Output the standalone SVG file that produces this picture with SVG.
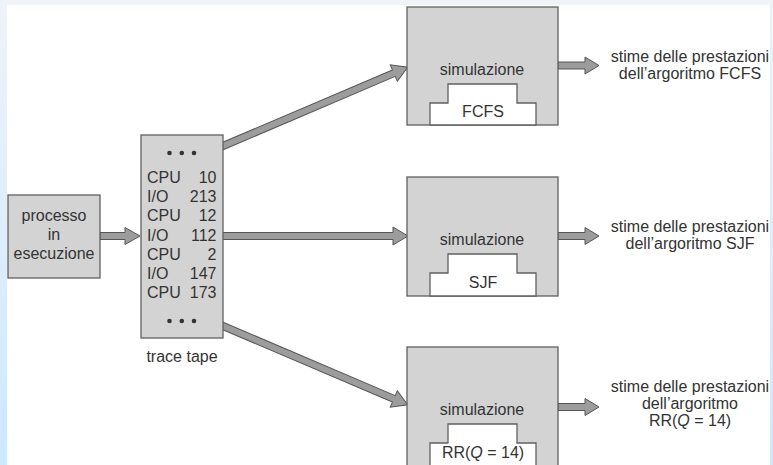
<svg xmlns="http://www.w3.org/2000/svg" width="773" height="465" viewBox="0 0 773 465">
<defs>
<linearGradient id="side" x1="0" y1="0" x2="0" y2="1">
<stop offset="0" stop-color="#eef3f8"/>
<stop offset="1" stop-color="#cde8ff"/>
</linearGradient>
<style>
.box{fill:#d3d3d3;stroke:#606060;stroke-width:1.3}
.inner{fill:#ffffff;stroke:#606060;stroke-width:1.3}
.arr{fill:#9c9c9c;stroke:#555555;stroke-width:1}
text{font-family:"Liberation Sans",Arial,sans-serif;font-size:16px;fill:#333333}
.c{text-anchor:middle}
.r{text-anchor:end}
.dot{fill:#333333}
</style>
</defs>
<rect x="0" y="0" width="773" height="465" fill="#ffffff"/>
<rect x="0" y="0" width="773" height="5" fill="#f0f4f8"/>
<rect x="0" y="0" width="7" height="465" fill="url(#side)"/>
<rect x="770" y="0" width="3" height="465" fill="url(#side)"/>

<g id="connectors">
<polygon class="arr" points="100,232.5 125,232.5 125,227.5 140,236 125,244.5 125,239.5 100,239.5"/>
<g transform="translate(220,147.3) rotate(-23.12)">
<polygon class="arr" points="0,-3.5 189,-3.5 189,-9 204,0 189,9 189,3.5 0,3.5"/>
</g>
<polygon class="arr" points="220,232.5 393,232.5 393,227 408,236 393,245 393,239.5 220,239.5"/>
<g transform="translate(220,324.7) rotate(23.12)">
<polygon class="arr" points="0,-3.5 189,-3.5 189,-9 204,0 189,9 189,3.5 0,3.5"/>
</g>
<polygon class="arr" points="558,62 585,62 585,57 599,65.5 585,74 585,69 558,69"/>
<polygon class="arr" points="558,232.5 585,232.5 585,227.5 599,236 585,244.5 585,239.5 558,239.5"/>
<polygon class="arr" points="558,403.5 585,403.5 585,398.5 599,407 585,415.5 585,410.5 558,410.5"/>
</g>

<g id="processo">
<rect class="box" x="8" y="195" width="92" height="83"/>
<text class="c" x="54" y="221">processo</text>
<text class="c" x="54" y="240">in</text>
<text class="c" x="54" y="259">esecuzione</text>
</g>

<g id="trace-tape">
<rect class="box" x="141" y="135" width="82" height="203"/>
<circle class="dot" cx="169.5" cy="153" r="2.3"/>
<circle class="dot" cx="181.8" cy="153" r="2.3"/>
<circle class="dot" cx="194" cy="153" r="2.3"/>
<text x="147" y="183">CPU</text><text class="r" x="216.5" y="183">10</text>
<text x="147" y="202">I/O</text><text class="r" x="216.5" y="202">213</text>
<text x="147" y="221">CPU</text><text class="r" x="216.5" y="221">12</text>
<text x="147" y="241">I/O</text><text class="r" x="216.5" y="241">112</text>
<text x="147" y="260">CPU</text><text class="r" x="216.5" y="260">2</text>
<text x="147" y="279">I/O</text><text class="r" x="216.5" y="279">147</text>
<text x="147" y="298">CPU</text><text class="r" x="216.5" y="298">173</text>
<circle class="dot" cx="169.5" cy="321" r="2.3"/>
<circle class="dot" cx="181.8" cy="321" r="2.3"/>
<circle class="dot" cx="194" cy="321" r="2.3"/>
<text class="c" x="182" y="362">trace tape</text>
</g>

<g id="sim-fcfs">
<rect class="box" x="407" y="7" width="151" height="118"/>
<text class="c" x="482" y="75">simulazione</text>
<polygon class="inner" points="430,125 430,103 448,103 448,84 517,84 517,103 536,103 536,125"/>
<text class="c" x="483" y="117">FCFS</text>
</g>

<g id="sim-sjf">
<rect class="box" x="407" y="177" width="151" height="119"/>
<text class="c" x="482" y="245">simulazione</text>
<polygon class="inner" points="430,296 430,273 448,273 448,254 517,254 517,273 536,273 536,296"/>
<text class="c" x="483" y="288">SJF</text>
</g>

<g id="sim-rr">
<rect class="box" x="407" y="347" width="151" height="119"/>
<text class="c" x="482" y="415">simulazione</text>
<polygon class="inner" points="430,466 430,443 448,443 448,424 517,424 517,443 536,443 536,466"/>
<text class="c" x="483" y="458">RR(<tspan font-style="italic">Q</tspan> = 14)</text>
</g>

<g id="out-fcfs">
<text class="c" x="690" y="62">stime delle prestazioni</text>
<text class="c" x="690" y="79">dell’argoritmo FCFS</text>
</g>
<g id="out-sjf">
<text class="c" x="690" y="232">stime delle prestazioni</text>
<text class="c" x="690" y="249">dell’argoritmo SJF</text>
</g>
<g id="out-rr">
<text class="c" x="690" y="392">stime delle prestazioni</text>
<text class="c" x="690" y="409">dell’argoritmo</text>
<text class="c" x="690" y="426">RR(<tspan font-style="italic">Q</tspan> = 14)</text>
</g>
</svg>
